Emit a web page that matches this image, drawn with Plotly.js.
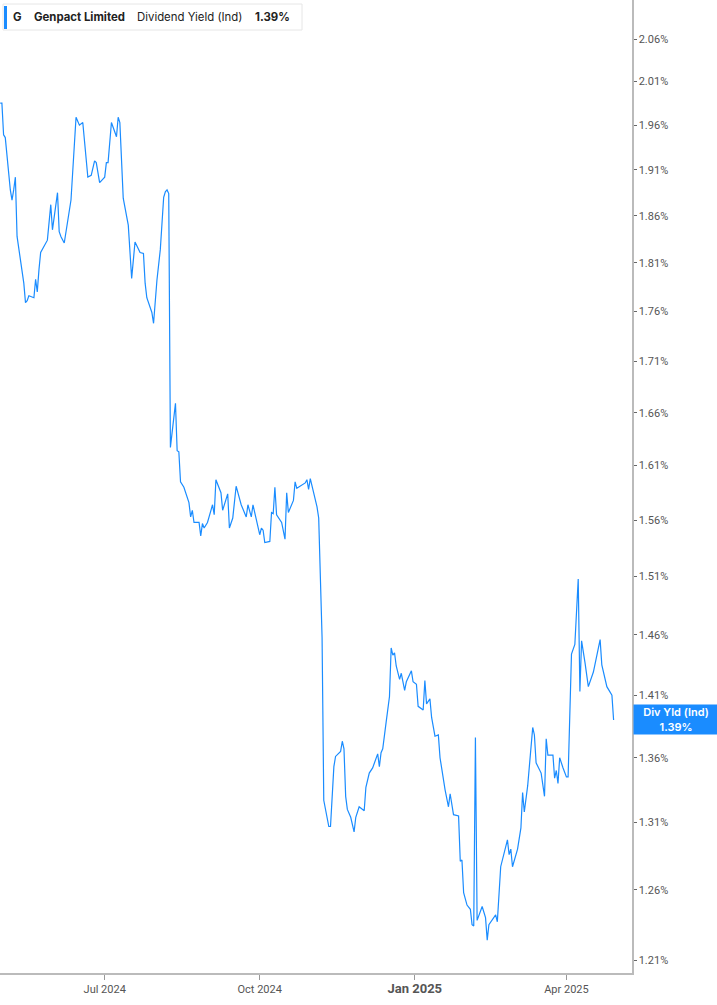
<!DOCTYPE html>
<html>
<head>
<meta charset="utf-8">
<script src="https://cdn.plot.ly/plotly-3.0.1.min.js"></script>
<style>
  html, body { margin: 0; padding: 0; background: #fff; }
  #myDiv { width: 717px; height: 1005px; }
</style>
</head>
<body>
<div id="myDiv"></div>
<script>
// Genpact Limited - Dividend Yield (Ind)
var dates = [
  '2024-04-30','2024-05-01','2024-05-02','2024-05-03','2024-05-06','2024-05-07','2024-05-08','2024-05-09','2024-05-10',
  '2024-05-13','2024-05-14','2024-05-15','2024-05-16','2024-05-17','2024-05-20','2024-05-21','2024-05-22','2024-05-23',
  '2024-05-24','2024-05-28','2024-05-30','2024-05-31','2024-06-03','2024-06-04','2024-06-05','2024-06-07','2024-06-09',
  '2024-06-11','2024-06-14','2024-06-16','2024-06-18','2024-06-21','2024-06-23','2024-06-25','2024-06-26','2024-06-28',
  '2024-07-01','2024-07-02','2024-07-03','2024-07-05','2024-07-08','2024-07-09','2024-07-10','2024-07-12','2024-07-15',
  '2024-07-17','2024-07-19','2024-07-22','2024-07-24','2024-07-25','2024-07-26','2024-07-29','2024-07-30','2024-08-01',
  '2024-08-03','2024-08-05','2024-08-06','2024-08-07','2024-08-08','2024-08-09','2024-08-10','2024-08-12','2024-08-13',
  '2024-08-14','2024-08-15','2024-08-17','2024-08-20','2024-08-21','2024-08-22','2024-08-23','2024-08-26','2024-08-27',
  '2024-08-28','2024-08-29','2024-08-31','2024-09-02','2024-09-03','2024-09-04','2024-09-05','2024-09-08','2024-09-09',
  '2024-09-12','2024-09-13','2024-09-15','2024-09-17','2024-09-20','2024-09-23','2024-09-24','2024-09-26','2024-09-27',
  '2024-09-28','2024-10-01','2024-10-02','2024-10-03','2024-10-04','2024-10-07','2024-10-08','2024-10-09','2024-10-10',
  '2024-10-11','2024-10-14','2024-10-16','2024-10-17','2024-10-18','2024-10-21','2024-10-22','2024-10-23','2024-10-25',
  '2024-10-28','2024-10-29','2024-10-30','2024-10-31','2024-11-02','2024-11-04','2024-11-05','2024-11-07','2024-11-08',
  '2024-11-10','2024-11-11','2024-11-12','2024-11-14','2024-11-15','2024-11-18','2024-11-19','2024-11-20','2024-11-21',
  '2024-11-22','2024-11-24','2024-11-26','2024-11-27','2024-11-29','2024-12-02','2024-12-03','2024-12-05','2024-12-07',
  '2024-12-10','2024-12-11','2024-12-12','2024-12-13','2024-12-15','2024-12-17','2024-12-18','2024-12-19','2024-12-20',
  '2024-12-21','2024-12-23','2024-12-24','2024-12-26','2024-12-27','2024-12-30','2024-12-31','2025-01-02','2025-01-03',
  '2025-01-06','2025-01-07','2025-01-08','2025-01-10','2025-01-11','2025-01-13','2025-01-15','2025-01-16','2025-01-19',
  '2025-01-21','2025-01-22','2025-01-24','2025-01-27','2025-01-28','2025-01-29','2025-01-30','2025-02-01','2025-02-03',
  '2025-02-04','2025-02-05','2025-02-06','2025-02-07','2025-02-10','2025-02-12','2025-02-13','2025-02-14','2025-02-18',
  '2025-02-19','2025-02-21','2025-02-23','2025-02-25','2025-02-26','2025-02-27','2025-02-28','2025-03-03','2025-03-05',
  '2025-03-06','2025-03-07','2025-03-09','2025-03-12','2025-03-13','2025-03-14','2025-03-17','2025-03-19','2025-03-20',
  '2025-03-21','2025-03-24','2025-03-25','2025-03-26','2025-03-27','2025-03-28','2025-03-30','2025-04-01','2025-04-02',
  '2025-04-04','2025-04-06','2025-04-08','2025-04-09','2025-04-10','2025-04-12','2025-04-14','2025-04-17','2025-04-21',
  '2025-04-22','2025-04-25','2025-04-28','2025-04-29'
];

var divYield = [
  1.985,1.985,1.949,1.946,1.888,1.877,1.888,1.902,1.838,
  1.801,1.789,1.769,1.771,1.776,1.774,1.793,1.780,1.803,
  1.821,1.834,1.872,1.845,1.885,1.843,1.838,1.831,1.853,
  1.877,1.969,1.960,1.963,1.902,1.904,1.920,1.918,1.896,
  1.902,1.918,1.918,1.963,1.947,1.969,1.963,1.879,1.850,
  1.794,1.832,1.821,1.820,1.789,1.774,1.759,1.748,1.792,
  1.824,1.880,1.886,1.888,1.884,1.627,1.641,1.669,1.624,
  1.623,1.595,1.590,1.576,1.563,1.569,1.558,1.558,1.546,
  1.557,1.553,1.558,1.569,1.574,1.565,1.597,1.585,1.569,
  1.584,1.553,1.562,1.591,1.574,1.563,1.574,1.563,1.574,
  1.567,1.547,1.553,1.551,1.540,1.541,1.567,1.566,1.590,
  1.565,1.558,1.543,1.585,1.567,1.578,1.595,1.589,1.591,
  1.594,1.597,1.588,1.598,1.586,1.572,1.562,1.458,1.327,
  1.315,1.307,1.307,1.353,1.361,1.365,1.373,1.367,1.330,
  1.320,1.314,1.303,1.314,1.322,1.319,1.337,1.348,1.352,
  1.363,1.353,1.364,1.367,1.388,1.409,1.449,1.443,1.445,
  1.434,1.423,1.428,1.414,1.421,1.430,1.421,1.419,1.401,
  1.398,1.422,1.403,1.407,1.392,1.377,1.378,1.360,1.335,
  1.322,1.332,1.316,1.315,1.281,1.282,1.258,1.249,1.246,
  1.235,1.234,1.376,1.238,1.248,1.240,1.224,1.235,1.242,
  1.237,1.277,1.286,1.297,1.286,1.290,1.277,1.290,1.306,
  1.333,1.318,1.338,1.384,1.378,1.356,1.348,1.330,1.375,
  1.362,1.362,1.344,1.350,1.340,1.360,1.352,1.345,1.345,
  1.444,1.452,1.508,1.413,1.455,1.437,1.417,1.429,1.456,
  1.435,1.417,1.410,1.390
];

var yTicks = [1.21,1.26,1.31,1.36,1.41,1.46,1.51,1.56,1.61,1.66,1.71,1.76,1.81,1.86,1.91,1.96,2.01,2.06];
var xTicks = ['2024-07-01','2024-10-01','2025-01-01','2025-04-01'];
var xTickText = ['Jul 2024','Oct 2024','<span style="font-size:13px"><b>Jan 2025</b></span>','Apr 2025'];

var blue = '#1a8cff';
var lastVal = divYield[divYield.length - 1];
var plotW = 632, plotH = 973;
function px(x) { return x / plotW; }
function py(y) { return 1 - y / plotH; }

var data = [{
  x: dates,
  y: divYield,
  type: 'scatter',
  mode: 'lines',
  line: {color: blue, width: 1.2},
  hoverinfo: 'skip'
}];

var headFont = {family: 'Inter, Roboto, sans-serif', size: 11.4, color: '#222'};

var layout = {
  width: 717,
  height: 1005,
  margin: {l: 0, r: 85, t: 0, b: 32},
  paper_bgcolor: '#fff',
  plot_bgcolor: '#fff',
  showlegend: false,
  xaxis: {
    type: 'date',
    range: ['2024-04-29 21:00', '2025-05-09 22:00'],
    tickvals: xTicks,
    ticktext: xTickText,
    ticks: 'outside',
    ticklen: 5,
    tickcolor: '#999',
    showline: true,
    linecolor: '#bbb',
    linewidth: 2,
    showgrid: false,
    zeroline: false,
    tickfont: {family: 'Roboto, sans-serif', size: 11, color: '#555'}
  },
  yaxis: {
    type: 'log',
    side: 'right',
    range: [0.079523, 0.32366],
    tickvals: yTicks,
    ticktext: yTicks.map(function(v){ return v.toFixed(2) + '%'; }),
    ticks: 'outside',
    ticklen: 3,
    tickcolor: '#666',
    showline: true,
    linecolor: '#bbb',
    linewidth: 1.5,
    showgrid: false,
    zeroline: false,
    tickfont: {family: 'Roboto, sans-serif', size: 11, color: '#555'}
  },
  shapes: [
    {type: 'rect', xref: 'paper', yref: 'paper', x0: px(3), x1: px(302), y0: py(30), y1: py(4),
     line: {color: '#e6e6e6', width: 1}, fillcolor: '#fff', layer: 'above'},
    {type: 'rect', xref: 'paper', yref: 'paper', x0: px(4), x1: px(7), y0: py(29), y1: py(6),
     line: {width: 0}, fillcolor: blue, layer: 'above'}
  ],
  annotations: [
    {xref: 'paper', yref: 'paper', x: px(17.5), y: py(17), xanchor: 'center', yanchor: 'middle',
     text: '<b>G</b>', showarrow: false, font: headFont},
    {xref: 'paper', yref: 'paper', x: px(32), y: py(17), xanchor: 'left', yanchor: 'middle',
     text: '<b>Genpact Limited</b>', showarrow: false, font: headFont},
    {xref: 'paper', yref: 'paper', x: px(135), y: py(17), xanchor: 'left', yanchor: 'middle',
     text: 'Dividend Yield (Ind)', showarrow: false, font: headFont},
    {xref: 'paper', yref: 'paper', x: px(253), y: py(17), xanchor: 'left', yanchor: 'middle',
     text: '<b>1.39%</b>', showarrow: false, font: headFont},
    {xref: 'paper', yref: 'y', x: 1, y: Math.log10(lastVal), xanchor: 'left', yanchor: 'middle',
     xshift: 1, text: 'Div Yld (Ind)<br>' + lastVal.toFixed(2) + '%', showarrow: false,
     bgcolor: blue, width: 80, height: 25, borderpad: 2, align: 'center',
     font: {family: 'Inter, Roboto, sans-serif', size: 11, color: '#fff', weight: 600}}
  ]
};

Plotly.newPlot('myDiv', data, layout, {displayModeBar: false, staticPlot: true});
</script>
</body>
</html>
